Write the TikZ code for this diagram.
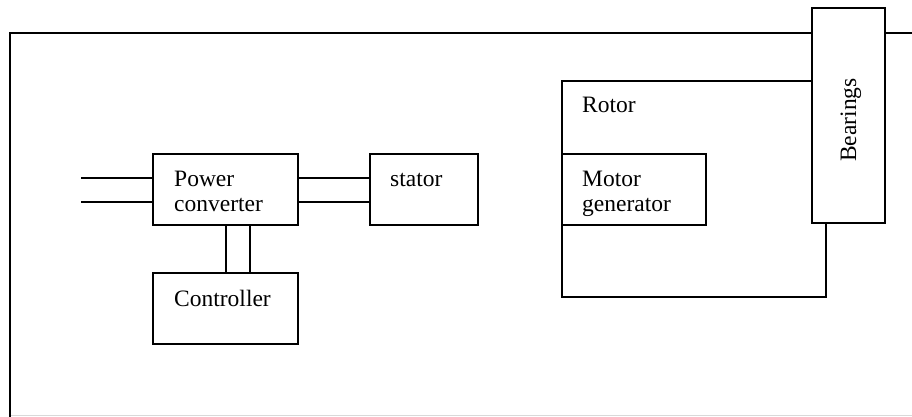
\documentclass[tikz,border=0pt]{standalone}
\usepackage{fontspec}
\setmainfont{Liberation Serif}
\begin{document}
\begin{tikzpicture}[x=1pt,y=-1pt,
  ln/.style={line width=1.8pt,line cap=rect},
  box/.style={draw,line width=1.8pt,inner sep=0pt,fill=white},
  lbl/.style={anchor=base west,inner sep=0pt,font=\fontsize{23.5}{25}\selectfont}]
\useasboundingbox (0,0) rectangle (912,417);
% outer frame
\draw[gray!30,line width=1.5pt] (10,415.5) -- (912,415.5);
\node[box,minimum width=73,minimum height=215] (bear) at (848.5,115.5) {};
\coordinate (fl) at (10,33);
\coordinate (fb) at (10,417);
\coordinate (fr) at (912,33);
\draw[ln] (fb) -- (fl) -- (bear.west |- fl);
\draw[ln] (bear.east |- fr) -- (fr);
\node[rotate=90,anchor=base west,inner sep=0pt,font=\fontsize{23.5}{25}\selectfont] (bt) at (856,162) {Bearings};
% rotor
\coordinate (rtl) at (562,81);
\coordinate (rbl) at (562,297);
\coordinate (rbr) at (826,297);
\draw[ln] (bear.west |- rtl) -- (rtl) -- (rbl) -- (rbr) -- (rbr |- bear.south);
\node[lbl] (rotor) at (582,113) {Rotor};
\node[box,minimum width=144,minimum height=71] (mg) at (634,189.5) {};
\node[lbl] (mg1) at (582,186) {Motor};
\node[lbl] (mg2) at (582,211) {generator};
% power converter
\node[box,minimum width=145,minimum height=71] (pc) at (225.5,189.5) {};
\node[lbl] (pc1) at (174,186) {Power};
\node[lbl] (pc2) at (174,211) {converter};
% stator
\node[box,minimum width=108,minimum height=71] (st) at (424,189.5) {};
\node[lbl] (st1) at (390,186) {stator};
% controller
\node[box,minimum width=145,minimum height=71] (ctl) at (225.5,308.5) {};
\node[lbl] (ctl1) at (174,306) {Controller};
% connectors
\coordinate (i1) at (82,178);
\coordinate (i2) at (82,202);
\draw[ln] (i1) -- (pc.west |- i1);
\draw[ln] (i2) -- (pc.west |- i2);
\draw[ln] (pc.east |- i1) -- (st.west |- i1);
\draw[ln] (pc.east |- i2) -- (st.west |- i2);
\coordinate (v1) at (226,0);
\coordinate (v2) at (250,0);
\draw[ln] (v1 |- pc.south) -- (v1 |- ctl.north);
\draw[ln] (v2 |- pc.south) -- (v2 |- ctl.north);
\end{tikzpicture}
\end{document}
